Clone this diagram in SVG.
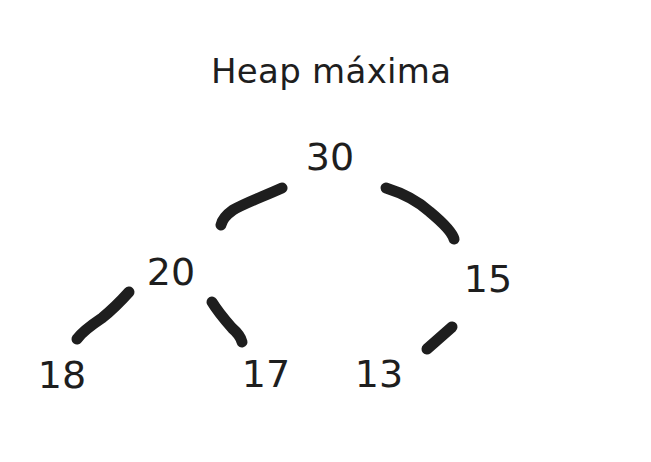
<svg xmlns="http://www.w3.org/2000/svg" width="651" height="462" viewBox="0 0 651 462">
<style>
.t{font-family:"DejaVu Sans","Liberation Sans",sans-serif;fill:#1e1e1e;text-anchor:middle}
.n{font-size:38px}
.e{fill:none;stroke:#1e1e1e;stroke-width:11;stroke-linecap:round;stroke-linejoin:round}
</style>
<rect width="651" height="462" fill="#ffffff"/>
<g id="title"><text class="t" x="331" y="83" font-size="34" textLength="240">Heap máxima</text></g>
<g id="connectors">
<path class="e" d="M282,188 C262,197 245,203 233,210 C226,215 222,220 221,225"/>
<path class="e" d="M386,188 C402,193 418,201 430,212 C442,222 452,232 454,239"/>
<path class="e" d="M129,292 C120,302 112,310 102,318 C90,326 82,332 77,339"/>
<path class="e" d="M212,302 C218,312 225,320 232,328 C239,334 241,338 242,342"/>
<path class="e" d="M452,327 C443,335 435,342 427,349"/>
</g>
<g id="node-30"><text class="t n" x="330" y="170">30</text></g>
<g id="node-20"><text class="t n" x="171" y="285">20</text></g>
<g id="node-15"><text class="t n" x="488" y="292">15</text></g>
<g id="node-18"><text class="t n" x="62" y="388">18</text></g>
<g id="node-17"><text class="t n" x="266" y="387">17</text></g>
<g id="node-13"><text class="t n" x="379" y="387">13</text></g>
</svg>
